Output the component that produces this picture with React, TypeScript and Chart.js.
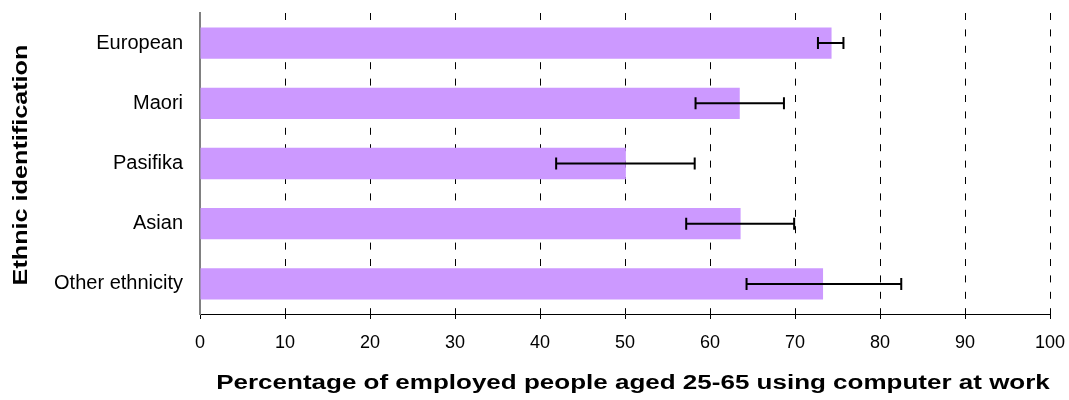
import React, { useEffect, useRef } from "react";
import { Chart, registerables } from "chart.js";

Chart.register(...registerables);

const categories = ["European", "Maori", "Pasifika", "Asian", "Other ethnicity"];
const values = [74.3, 63.5, 50.1, 63.6, 73.3];
const lowerCI = [72.7, 58.3, 41.9, 57.2, 64.3];
const upperCI = [75.7, 68.7, 58.2, 69.9, 82.5];
const xMin = 0;
const xMax = 100;
const xStep = 10;
const xTitle = "Percentage of employed people aged 25-65 using computer at work";
const yTitle = "Ethnic identification";

const FONT = '"Liberation Sans", Arial, sans-serif';

const errorBarPlugin = {
  id: "errorBars",
  afterDatasetsDraw(chart: any) {
    const ctx = chart.ctx;
    const xs = chart.scales.x;
    const ys = chart.scales.y;
    ctx.save();
    ctx.strokeStyle = "#000";
    ctx.lineWidth = 2;
    for (let i = 0; i < categories.length; i++) {
      const y = ys.getPixelForValue(i);
      const x1 = xs.getPixelForValue(lowerCI[i]);
      const x2 = xs.getPixelForValue(upperCI[i]);
      ctx.beginPath();
      ctx.moveTo(x1, y);
      ctx.lineTo(x2, y);
      ctx.moveTo(x1, y - 6);
      ctx.lineTo(x1, y + 6);
      ctx.moveTo(x2, y - 6);
      ctx.lineTo(x2, y + 6);
      ctx.stroke();
    }
    ctx.restore();
  },
};

const titlesPlugin = {
  id: "stretchedTitles",
  afterDraw(chart: any) {
    const ctx = chart.ctx;
    const ca = chart.chartArea;
    ctx.save();
    ctx.font = "bold 20px " + FONT;
    ctx.fillStyle = "#000";
    ctx.textAlign = "center";
    ctx.textBaseline = "middle";
    ctx.save();
    ctx.translate((ca.left + ca.right) / 2 + 8, 383);
    ctx.scale(1.3, 1);
    ctx.fillText(xTitle, 0, 0);
    ctx.restore();
    ctx.save();
    ctx.translate(21, (ca.top + ca.bottom) / 2 + 1.5);
    ctx.rotate(-Math.PI / 2);
    ctx.scale(1.26, 1);
    ctx.fillText(yTitle, 0, 0);
    ctx.restore();
    ctx.restore();
  },
};

export default function App() {
  const ref = useRef<HTMLCanvasElement | null>(null);
  useEffect(() => {
    if (!ref.current) return;
    const chart = new Chart(ref.current, {
      type: "bar",
      data: {
        labels: categories,
        datasets: [
          {
            data: values,
            backgroundColor: "#CC99FF",
            borderWidth: 0,
            barPercentage: 0.52,
            categoryPercentage: 1.0,
          },
        ],
      },
      options: {
        indexAxis: "y",
        responsive: false,
        animation: false,
        layout: { padding: { top: 13, right: 19, left: 0, bottom: 0 } },
        plugins: {
          legend: { display: false },
          tooltip: { enabled: false },
          title: { display: false },
        },
        scales: {
          x: {
            type: "linear",
            min: xMin,
            max: xMax,
            ticks: {
              stepSize: xStep,
              color: "#000",
              padding: 13,
              font: { family: FONT, size: 18 },
            },
            grid: {
              color: (c: any) => (c.index === 0 ? "rgba(0,0,0,0)" : "#000"),
              lineWidth: 1,
              drawTicks: true,
              tickLength: 5,
              tickColor: "#000",
              tickWidth: 1,
            },
            border: { display: true, color: "#000", width: 1, dash: [7, 9.4] },
            afterFit(scale: any) {
              scale.height = 86;
              scale.paddingLeft = 0;
              scale.paddingRight = 0;
            },
          },
          y: {
            type: "category",
            ticks: {
              color: "#000",
              padding: 17,
              font: { family: FONT, size: 20 },
            },
            grid: { display: false, drawTicks: false },
            border: { display: true, color: "#808080", width: 2 },
            afterFit(scale: any) {
              scale.width = 200;
              scale.paddingTop = 0;
              scale.paddingBottom = 0;
            },
          },
        },
      },
      plugins: [errorBarPlugin, titlesPlugin],
    });
    return () => chart.destroy();
  }, []);
  return (
    <div style={{ position: "absolute", left: 0, top: 0, width: 1069, height: 400 }}>
      <canvas ref={ref} width={1069} height={400} style={{ display: "block" }} />
    </div>
  );
}
